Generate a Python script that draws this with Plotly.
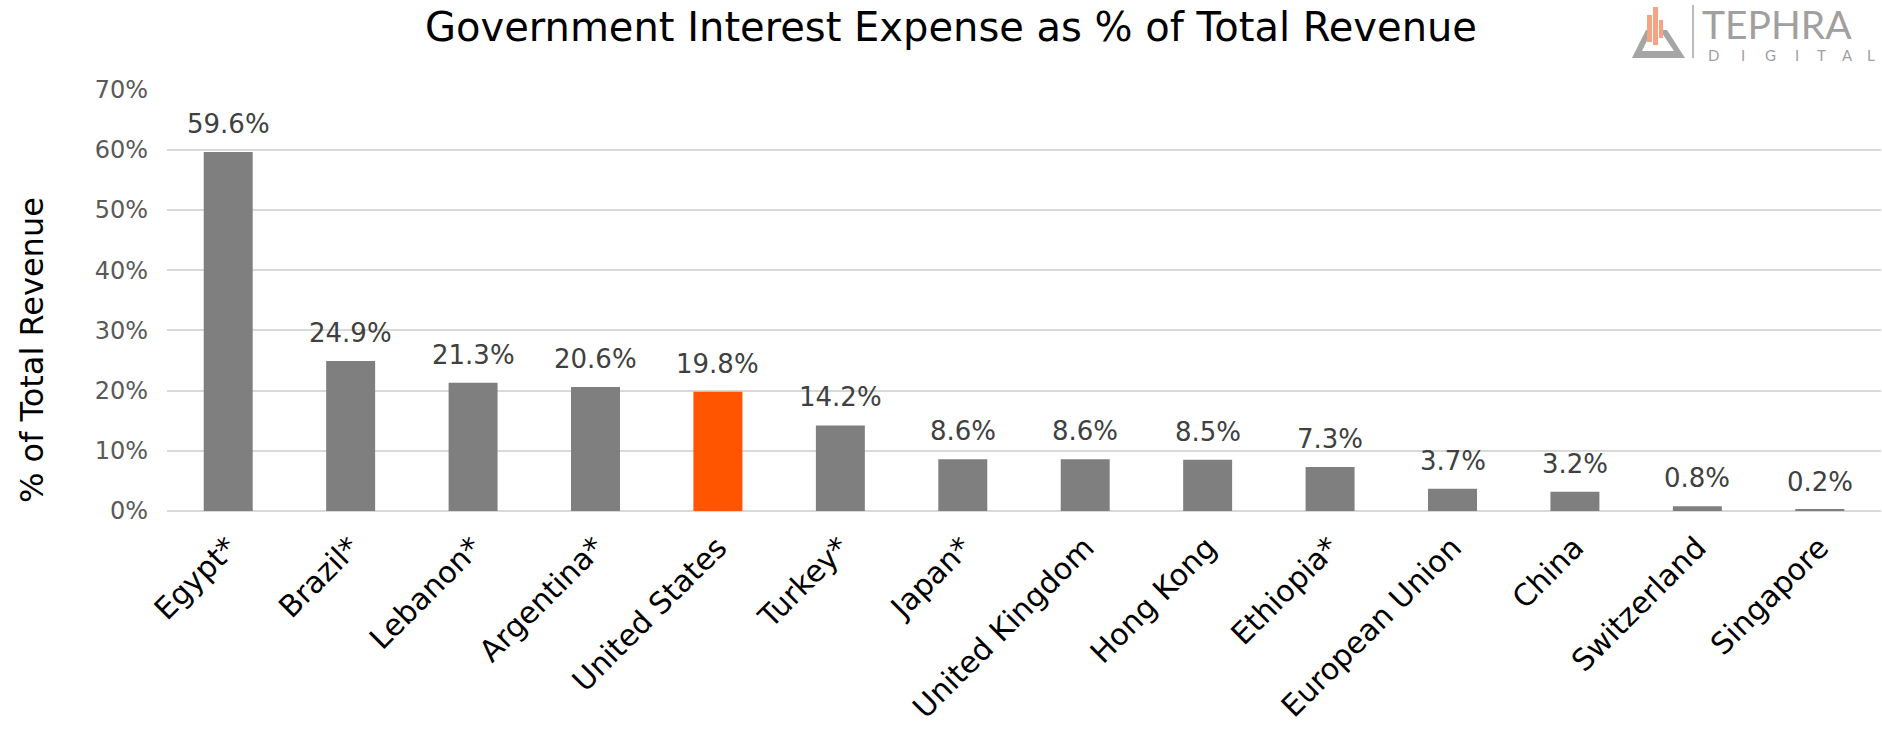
import plotly.graph_objects as go

# ---- data ----
countries = ["Egypt*", "Brazil*", "Lebanon*", "Argentina*", "United States", "Turkey*",
             "Japan*", "United Kingdom", "Hong Kong", "Ethiopia*", "European Union",
             "China", "Switzerland", "Singapore"]
interest_pct = [59.6, 24.9, 21.3, 20.6, 19.8, 14.2, 8.6, 8.6, 8.5, 7.3, 3.7, 3.2, 0.8, 0.2]
highlight = "United States"
y_ticks = [0, 10, 20, 30, 40, 50, 60, 70]
y_tick_labels = ["0%", "10%", "20%", "30%", "40%", "50%", "60%", "70%"]

title_text = "Government Interest Expense as % of Total Revenue"
y_title = "% of Total Revenue"

GRAY = "#7F7F7F"
ORANGE = "#FF5500"
bar_colors = [ORANGE if c == highlight else GRAY for c in countries]

W, H = 1882, 736
L, R, T, B = 167, 1, 89, 225
pw, ph = W - L - R, H - T - B


def px(x):
    """screen x -> paper"""
    return (x - L) / pw


def py(y):
    """screen y -> paper"""
    return (H - B - y) / ph


fig = go.Figure()
fig.add_trace(go.Bar(
    x=countries, y=interest_pct,
    marker=dict(color=bar_colors, line=dict(width=0)),
    hoverinfo="skip",
))

annotations = []
for c, v in zip(countries, interest_pct):
    annotations.append(dict(
        x=c, y=v, xref="x", yref="y", text=f"{v:.1f}%", showarrow=False,
        yanchor="bottom", yshift=11,
        font=dict(family="DejaVu Sans", size=26, color="#404040"),
    ))

# y axis title
annotations.append(dict(
    x=px(32), y=py(350), xref="paper", yref="paper", text=y_title, showarrow=False,
    textangle=-90, xanchor="center", yanchor="middle",
    font=dict(family="DejaVu Sans", size=32, color="#000000"),
))

# logo text
annotations.append(dict(
    x=px(1700), y=py(24), xref="paper", yref="paper", text="TEPHRA", showarrow=False,
    xanchor="left", yanchor="middle",
    font=dict(family="Lato", size=39, color="#A0A0A0"),
))
logo_letters = ["D", "I", "G", "I", "T", "A", "L"]
logo_letter_x = [1713, 1743, 1770, 1797, 1821, 1847, 1871]
for ch, lx in zip(logo_letters, logo_letter_x):
    annotations.append(dict(
        x=px(lx), y=py(55), xref="paper", yref="paper", text=ch, showarrow=False,
        xanchor="center", yanchor="middle",
        font=dict(family="Lato", size=15, color="#A0A0A0"),
    ))

shapes = []


def path(points):
    return "M " + " L ".join(f"{px(a):.5f},{py(b):.5f}" for a, b in points) + " Z"


shapes.append(dict(type="path", xref="paper", yref="paper",
                   path=path([(1632, 58), (1685, 58), (1667, 30), (1660, 30), (1674, 51),
                              (1642, 51), (1652, 30), (1646, 30)]),
                   fillcolor="#A5A5A5", line=dict(width=0)))
for (x0, x1, y0, y1) in [(1647, 1652, 15, 42), (1653, 1658, 7, 45), (1659, 1663, 20, 38)]:
    shapes.append(dict(type="rect", xref="paper", yref="paper",
                       x0=px(x0), x1=px(x1), y0=py(y1), y1=py(y0),
                       fillcolor="#F4A384", line=dict(width=0)))
shapes.append(dict(type="line", xref="paper", yref="paper",
                   x0=px(1693), x1=px(1693), y0=py(58), y1=py(5),
                   line=dict(color="#A5A5A5", width=1.5)))

fig.update_layout(
    width=W, height=H,
    margin=dict(l=L, r=R, t=T, b=B, autoexpand=False),
    paper_bgcolor="white", plot_bgcolor="white",
    bargap=0.6,
    showlegend=False,
    title=dict(text=title_text, x=951 / W, xanchor="center",
               y=1 - 27 / H, yanchor="middle",
               xref="container", yref="container",
               font=dict(family="DejaVu Sans", size=40, color="#000000")),
    xaxis=dict(
        range=[-0.5, len(countries) - 0.5], tickangle=-45,
        tickfont=dict(family="DejaVu Sans", size=30, color="#000000"),
        showgrid=False, showline=False, zeroline=False, ticks="",
        ticklabelstandoff=12,
    ),
    yaxis=dict(
        range=[0, 70.08], tickvals=y_ticks, ticktext=y_tick_labels,
        tickfont=dict(family="DejaVu Sans", size=24, color="#595959"),
        showgrid=True, gridcolor="#D9D9D9", gridwidth=1.5,
        zeroline=True, zerolinecolor="#D9D9D9", zerolinewidth=1.5,
        showline=False, ticks="", ticklabelstandoff=18,
    ),
    annotations=annotations,
    shapes=shapes,
)

fig.write_html("out.html",
               config={"displayModeBar": False},
               post_script="document.body.style.margin='0';document.body.style.overflow='hidden';")
